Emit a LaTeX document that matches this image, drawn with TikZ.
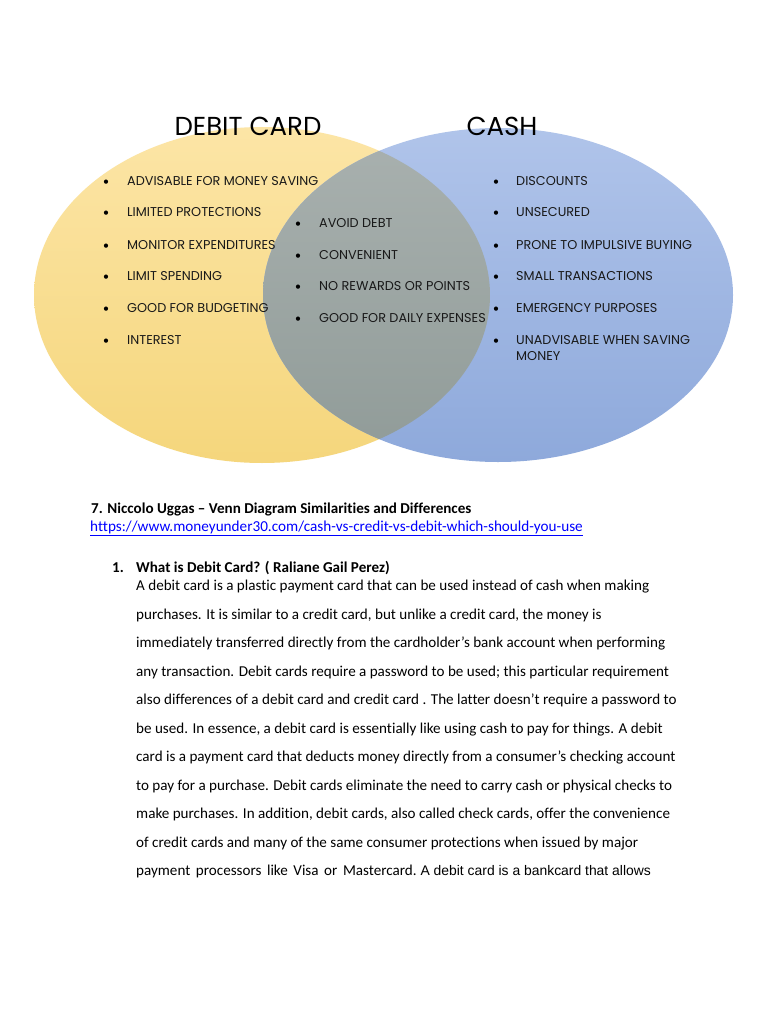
\documentclass[tikz,border=0pt]{standalone}
\usepackage{fontspec}
\setmainfont[Ligatures={NoCommon}]{Carlito}
\newfontfamily\venn{Poppins}
\newfontfamily\arialf{Liberation Sans}
\definecolor{ytop}{HTML}{FCE5A6}
\definecolor{ybot}{HTML}{F5D67C}
\definecolor{btop}{HTML}{B0C4EA}
\definecolor{bbot}{HTML}{8EA9DB}
\definecolor{gtop}{HTML}{A9B1AF}
\definecolor{gbot}{HTML}{909B98}
\definecolor{linkblue}{HTML}{0000FF}
\tikzset{
  vtitle/.style={anchor=base, font=\venn\fontsize{26}{26}\selectfont, text=black, inner sep=0pt},
  vitem/.style={anchor=base west, font=\venn\fontsize{12.8}{14}\selectfont, text=black!90, inner sep=0pt},
  vbul/.style={anchor=base, font=\fontsize{12}{12}\selectfont, inner sep=0pt},
  body/.style={anchor=base west, font=\fontsize{15.1}{15.1}\selectfont, text=black, inner sep=0pt},
  head/.style={anchor=base west, font=\bfseries\fontsize{15.1}{15.1}\selectfont, text=black, inner sep=0pt},
}
\begin{document}
\begin{tikzpicture}[x=1pt,y=-1pt]
\useasboundingbox (0,0) rectangle (768,1024);
\fill[white] (0,0) rectangle (768,1024);
% ellipses
\shade[top color=ytop, bottom color=ybot] (262,295) ellipse [x radius=228pt, y radius=168pt];
\shade[top color=btop, bottom color=bbot] (498,295) ellipse [x radius=235pt, y radius=167pt];
\begin{scope}
  \clip (262,295) ellipse [x radius=228pt, y radius=168pt];
  \shade[top color=gtop, bottom color=gbot] (498,295) ellipse [x radius=235pt, y radius=167pt];
\end{scope}
% titles
\node[vtitle] (tdebit) at (248,136) {DEBIT CARD};
\node[vtitle] (tcash) at (502,136) {CASH};
% left list
\foreach \t/\y [count=\i] in {ADVISABLE FOR MONEY SAVING/186, LIMITED PROTECTIONS/217, MONITOR EXPENDITURES/249, LIMIT SPENDING/280, GOOD FOR BUDGETING/312, INTEREST/344}{
  \node[vbul] (lb\i) at (106,\y) {\textbullet};
  \node[vitem] (l\i) at (127,\y) {\t};
}
% middle list
\foreach \t/\y [count=\i] in {AVOID DEBT/227, CONVENIENT/259, NO REWARDS OR POINTS/290, GOOD FOR DAILY EXPENSES/322}{
  \node[vbul] (mb\i) at (298,\y) {\textbullet};
  \node[vitem] (m\i) at (319,\y) {\t};
}
% right list
\foreach \t/\y [count=\i] in {DISCOUNTS/186, UNSECURED/217, PRONE TO IMPULSIVE BUYING/249, SMALL TRANSACTIONS/280, EMERGENCY PURPOSES/312, UNADVISABLE WHEN SAVING/344}{
  \node[vbul] (rb\i) at (496,\y) {\textbullet};
  \node[vitem] (r\i) at (516,\y) {\t};
}
\node[vitem] (r7) at (516,360) {MONEY};
% body text
\node[head] (h7) at (91,513) {7. Niccolo Uggas -- Venn Diagram Similarities and Differences};
\node[head, font=\fontsize{15.2}{15.2}\selectfont, text=linkblue] (link) at (90,531.5) {\underline{https://www.moneyunder30.com/cash-vs-credit-vs-debit-which-should-you-use}};
\node[head] (n1) at (112,572) {1.};
\node[head] (q1) at (136,572) {What is Debit Card? ( Raliane Gail Perez)};
\foreach \t [count=\i] in {
  {A debit card is a plastic payment card that can be used instead of cash when making},
  {purchases. It is similar to a credit card, but unlike a credit card, the money is},
  {immediately transferred directly from the cardholder's bank account when performing},
  {any transaction. Debit cards require a password to be used; this particular requirement},
  {also differences of a debit card and credit card . The latter doesn’t require a password to},
  {be used. In essence, a debit card is essentially like using cash to pay for things. A debit},
  {card is a payment card that deducts money directly from a consumer’s checking account},
  {to pay for a purchase. Debit cards eliminate the need to carry cash or physical checks to},
  {make purchases. In addition, debit cards, also called check cards, offer the convenience},
  {of credit cards and many of the same consumer protections when issued by major}}{
  \node[body] (p\i) at (136,{590.5+28.5*(\i-1)}) {\t};
}
\node[body] (p11) at (136,875.5) {\spaceskip=5.6pt payment processors like Visa or Mastercard.};
\node[body, font=\arialf\fontsize{13.9}{13.9}\selectfont] (p11b) at ([xshift=3.5pt]p11.base east) {A debit card is a bankcard that allows};
\end{tikzpicture}
\end{document}
